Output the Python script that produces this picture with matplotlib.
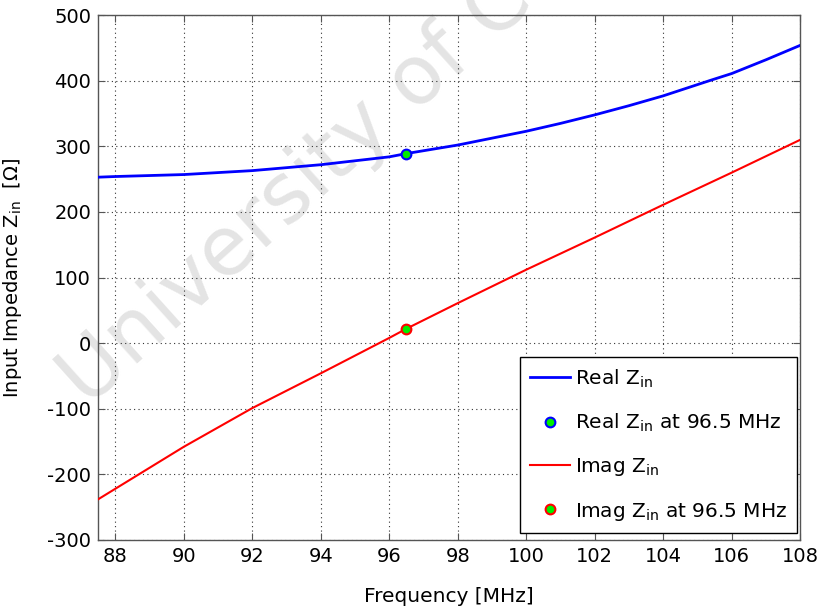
import numpy as np
import matplotlib
matplotlib.use("Agg")
import matplotlib.pyplot as plt

# input impedance of the antenna across the FM band
freq_real = [87.5, 88, 90, 92, 94, 96, 96.5, 98, 100, 101, 102, 103, 104, 105.4, 106, 107, 108]
z_real = [253, 254, 257, 263, 272, 284, 289, 302, 323, 335, 348, 362, 377, 401, 411, 432, 454]

freq_imag = [87.5, 90, 92, 94, 95, 96, 96.5, 98, 100, 102, 104, 106, 108]
z_imag = [-238, -158, -99, -46, -19, 8, 22, 61, 112, 161, 211, 260, 310]

f0 = 96.5
real_f0 = 289
imag_f0 = 22

plt.rcParams['font.family'] = 'DejaVu Sans'
plt.rcParams['axes.unicode_minus'] = False

fig = plt.figure(figsize=(8.25, 6.06), dpi=100)
ax = fig.add_axes([0.119, 0.109, 0.851, 0.866])

ax.text(-0.015, 0.25, "University of C", transform=ax.transAxes,
        fontsize=59, color='#e4e4e4', rotation=42, rotation_mode='anchor',
        ha='left', va='baseline', zorder=0.5, clip_on=False)

ax.plot(freq_real, z_real, '-', color='#0000ff', lw=2, label='Real Z$_{\\mathrm{in}}$', zorder=3)
ax.plot([f0], [real_f0], 'o', ms=7, mfc='#00ee00', mec='#0000ff', mew=1.5,
        label='Real Z$_{\\mathrm{in}}$ at 96.5 MHz', zorder=4)
ax.plot(freq_imag, z_imag, '-', color='#ff0000', lw=1.5, label='Imag Z$_{\\mathrm{in}}$', zorder=3)
ax.plot([f0], [imag_f0], 'o', ms=7, mfc='#00ee00', mec='#ff0000', mew=1.5,
        label='Imag Z$_{\\mathrm{in}}$ at 96.5 MHz', zorder=4)

ax.set_xlim(87.5, 108)
ax.set_ylim(-300, 500)
ax.set_xticks(np.arange(88, 109, 2))
ax.set_yticks(np.arange(-300, 501, 100))
ax.grid(True, linestyle=(0, (1, 3)), color='#333333', lw=0.8)
ax.tick_params(direction='in', top=True, right=True, length=5, width=0.8,
               color='#555555', labelsize=14, pad=5)
for s in ax.spines.values():
    s.set_color('#555555')
    s.set_linewidth(1)

ax.set_xlabel('Frequency [MHz]', fontsize=14.5, labelpad=15)
ax.set_ylabel('Input Impedance Z$_{\\mathrm{in}}$  [$\\Omega$]', fontsize=14)
ax.yaxis.set_label_coords(-0.106, 0.5)

leg = ax.legend(loc='lower right', bbox_to_anchor=(0.996, 0.014),
                fontsize=14.5, frameon=True, fancybox=False,
                edgecolor='black', framealpha=1, labelspacing=1.1,
                handlelength=2.0, handletextpad=0.25, borderaxespad=0.0,
                borderpad=0.5)
leg.get_frame().set_linewidth(1)

fig.savefig('out.png', dpi=100)
